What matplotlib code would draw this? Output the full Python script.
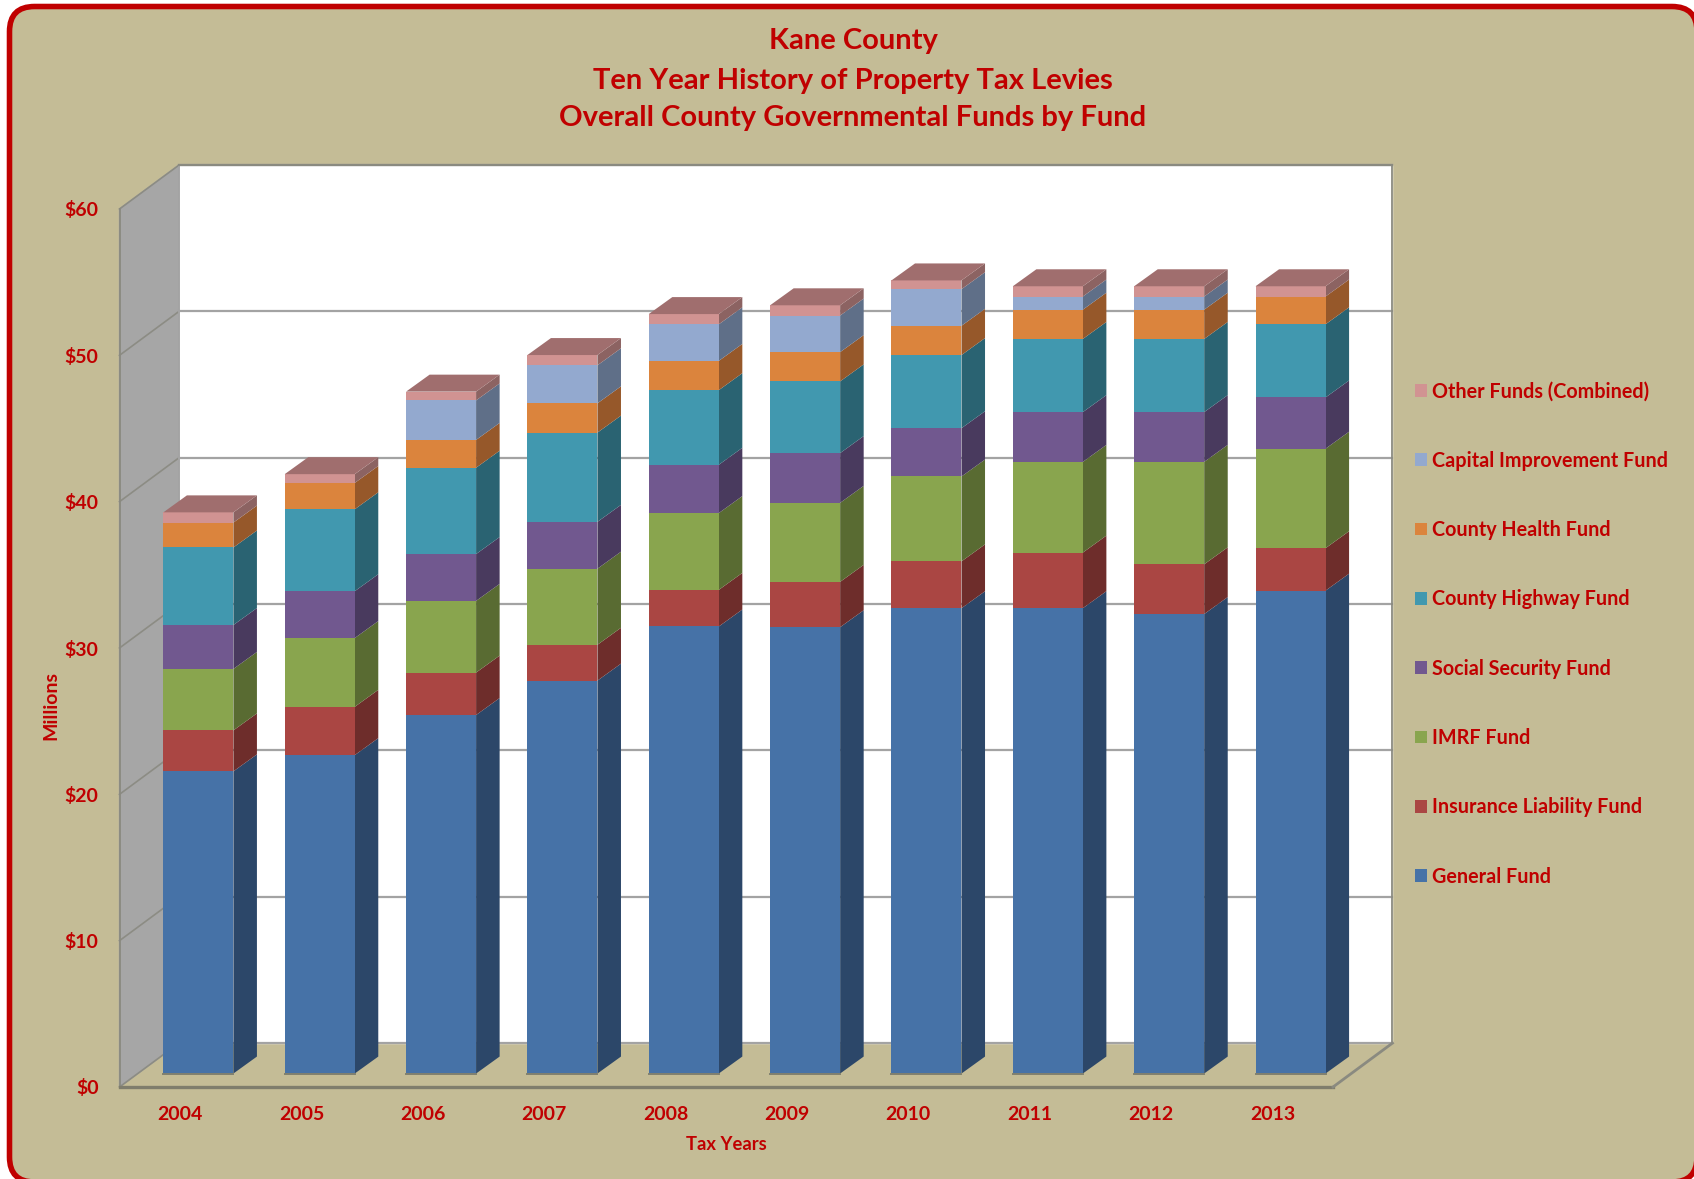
# stacked property tax levy chart with a drawn 3D box look
import matplotlib
matplotlib.use('Agg')
import matplotlib.pyplot as plt
import numpy as np
from matplotlib.patches import FancyBboxPatch
from matplotlib.transforms import IdentityTransform

years = ['2004', '2005', '2006', '2007', '2008', '2009', '2010', '2011', '2012', '2013']

general = [20.65, 21.76, 24.5, 26.85, 30.55, 30.5, 31.8, 31.8, 31.4, 33.0]
insurance = [2.8, 3.3, 2.9, 2.45, 2.5, 3.1, 3.2, 3.8, 3.4, 2.9]
imrf = [4.2, 4.7, 4.9, 5.2, 5.25, 5.4, 5.8, 6.2, 7.0, 6.8]
social_security = [3.0, 3.2, 3.2, 3.2, 3.3, 3.4, 3.3, 3.4, 3.4, 3.5]
highway = [5.3, 5.6, 5.9, 6.1, 5.1, 4.9, 5.0, 5.0, 5.0, 5.0]
health = [1.7, 1.8, 1.9, 2.0, 2.0, 2.0, 2.0, 2.0, 2.0, 1.9]
capital = [0, 0, 2.7, 2.6, 2.5, 2.5, 2.5, 0.9, 0.9, 0]
other = [0.7, 0.6, 0.6, 0.7, 0.7, 0.7, 0.6, 0.7, 0.7, 0.7]

series = [general, insurance, imrf, social_security, highway, health, capital, other]
names = ['General Fund', 'Insurance Liability Fund', 'IMRF Fund', 'Social Security Fund',
         'County Highway Fund', 'County Health Fund', 'Capital Improvement Fund',
         'Other Funds (Combined)']
front_colors = ['#4672A7', '#AA4643', '#89A54E', '#71588F', '#4198AF', '#DB843D', '#93A9CF', '#D19392']
side_colors = ['#2C4769', '#6E2D2B', '#596B32', '#493A5E', '#2A6372', '#96582A', '#5F6F88', '#8C6362']
top_color = '#A06E6E'

y_ticks = [0, 10, 20, 30, 40, 50, 60]
y_tick_labels = ['$0', '$10', '$20', '$30', '$40', '$50', '$60']

BG = '#C4BC96'
RED = '#C00000'
W, H = 1694, 1179

plt.rcParams['font.family'] = ['Lato', 'DejaVu Sans']
plt.rcParams['font.weight'] = 'bold'

fig = plt.figure(figsize=(W / 100, H / 100), dpi=100, facecolor='white')

# rounded panel runs off the right and bottom edges
panel = FancyBboxPatch((9.5, H - 1182), 1687.5, 1175.5, boxstyle='round,pad=0,rounding_size=25',
                       facecolor=BG, edgecolor=RED, linewidth=4, transform=IdentityTransform(),
                       zorder=-1)
fig.add_artist(panel)

# axes cover the front plane of the box
ax = fig.add_axes([119.5 / W, 1 - 1087 / H, 1213.5 / W, 878 / H])
ax.set_xlim(-0.5, 9.5)
ax.set_ylim(0, 60)
ax.patch.set_visible(False)
for s in ax.spines.values():
    s.set_visible(False)

# depth of the box and of the bars, in axis units
wall_dx, wall_dy = 0.49, 3.0
bar_dx, bar_dy = 0.194, 1.16
gap_dx, gap_dy = 0.15, 0.92
bar_w = 0.577

xl, xr = -0.5, 9.5
grid_col = '#A3A3A3'
edge_col = '#8A8A80'

# back wall, left wall
ax.fill([xl + wall_dx, xr + wall_dx, xr + wall_dx, xl + wall_dx],
        [wall_dy, wall_dy, 60 + wall_dy, 60 + wall_dy], color='white', clip_on=False, zorder=1)
ax.fill([xl, xl + wall_dx, xl + wall_dx, xl], [0, wall_dy, 60 + wall_dy, 60],
        color='#A6A6A6', clip_on=False, zorder=1)

# gridlines go along the left wall and across the back
for v in y_ticks:
    ax.plot([xl, xl + wall_dx], [v, v + wall_dy], color='#8C8C84', lw=1.2, clip_on=False, zorder=2)
    ax.plot([xl + wall_dx, xr + wall_dx], [v + wall_dy, v + wall_dy], color=grid_col, lw=1.6,
            clip_on=False, zorder=2)

# box outline
ax.plot([xl, xl], [0, 60], color=edge_col, lw=1.3, clip_on=False, zorder=3)
ax.plot([xl + wall_dx, xl + wall_dx], [wall_dy, 60 + wall_dy], color=grid_col, lw=1.3, clip_on=False, zorder=3)
ax.plot([xr + wall_dx, xr + wall_dx], [wall_dy, 60 + wall_dy], color=edge_col, lw=1.3, clip_on=False, zorder=3)
ax.plot([xl + wall_dx, xr + wall_dx], [60 + wall_dy, 60 + wall_dy], color=edge_col, lw=1.6, clip_on=False, zorder=3)
ax.plot([xl, xr], [0, 0], color='#7F7D6C', lw=2.4, clip_on=False, zorder=3)
ax.plot([xr, xr + wall_dx], [0, wall_dy], color=edge_col, lw=2, clip_on=False, zorder=3)

# stacked bars, front faces through ax.bar and the sides as parallelograms
x = np.arange(len(years)) + gap_dx
bottom = np.zeros(len(years))
handles = []
for vals, name, fc, sc in zip(series, names, front_colors, side_colors):
    vals = np.array(vals)
    b = ax.bar(x, vals, bar_w, bottom=bottom + gap_dy, color=fc, label=name, clip_on=False, zorder=5)
    handles.append(b)
    for xi, b0, v in zip(x, bottom + gap_dy, vals):
        if v == 0:
            continue
        r = xi + bar_w / 2
        ax.fill([r, r + bar_dx, r + bar_dx, r], [b0, b0 + bar_dy, b0 + v + bar_dy, b0 + v],
                color=sc, lw=0, clip_on=False, zorder=4)
    bottom = bottom + vals

# lids and the grey line along the foot of each bar
for xi, t in zip(x, bottom + gap_dy):
    l, r = xi - bar_w / 2, xi + bar_w / 2
    ax.fill([l, r, r + bar_dx, l + bar_dx], [t, t, t + bar_dy, t + bar_dy], color=top_color, lw=0,
            clip_on=False, zorder=6)
    ax.plot([l, r], [gap_dy, gap_dy], color='#80806F', lw=1.4, clip_on=False, zorder=6)

ax.set_xticks(np.arange(len(years)))
ax.set_xticklabels(years)
ax.set_yticks(y_ticks)
ax.set_yticklabels(y_tick_labels)
ax.tick_params(axis='both', length=0, labelcolor=RED, labelsize=14)
ax.tick_params(axis='x', pad=13.5)
ax.tick_params(axis='y', pad=15)

ax.set_ylabel('Millions', color=RED, fontsize=14, fontweight='bold')
ax.yaxis.set_label_coords((51 - 119.5) / 1213.5, (1087 - 705) / 878)
ax.yaxis.label.set_verticalalignment('center')
ax.set_xlabel('Tax Years', color=RED, fontsize=13.2, fontweight='bold')
ax.xaxis.set_label_coords((726 - 119.5) / 1213.5, (1087 - 1144) / 878)
ax.xaxis.label.set_verticalalignment('center')

for line, yp in zip(['Kane County', 'Ten Year History of Property Tax Levies',
                     'Overall County Governmental Funds by Fund'], [41, 81, 118]):
    fig.text(853 / W, 1 - yp / H, line, color=RED, fontsize=21, fontweight='bold',
             ha='center', va='center')

leg = ax.legend(handles[::-1], names[::-1], loc='center left', frameon=False,
                bbox_to_anchor=(1414.5 / W, 1 - 634 / H), bbox_transform=fig.transFigure,
                fontsize=14.2, labelcolor=RED, handlelength=0.62, handleheight=0.62,
                handletextpad=0.25, labelspacing=2.5, borderpad=0, borderaxespad=0)

fig.savefig('out.png', dpi=100, facecolor='white')
